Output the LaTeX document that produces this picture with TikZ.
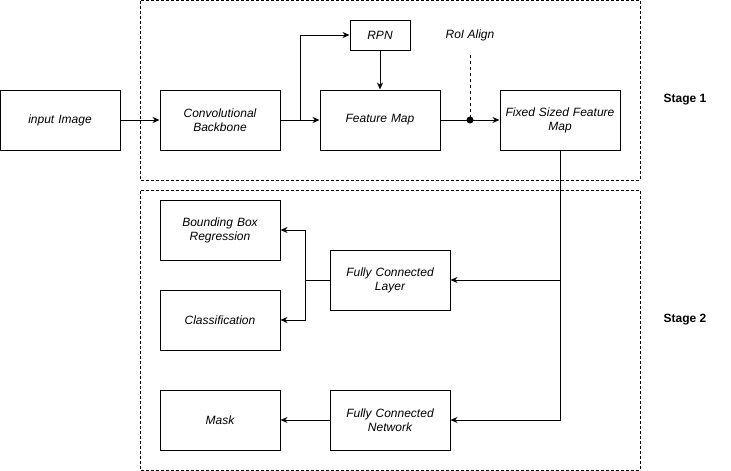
\documentclass[tikz,border=0pt]{standalone}
\usepackage{fontspec}
\setmainfont{Liberation Sans}
\usetikzlibrary{arrows.meta}
\begin{document}
\begin{tikzpicture}[x=1pt,y=-1pt,
  box/.style={draw,line width=1pt,minimum width=120pt,minimum height=60pt,inner sep=0pt,align=center,text width=116pt,font=\fontsize{12}{14}\selectfont\itshape},
  smallbox/.style={draw,line width=1pt,minimum width=60pt,minimum height=30pt,inner sep=0pt,align=center,font=\fontsize{12}{14}\selectfont\itshape},
  stagebox/.style={draw,line width=0.8pt,dash pattern=on 3pt off 2pt},
  conn/.style={line width=1pt,-{Stealth[length=7pt,width=6pt]}},
  line/.style={line width=1pt},
  lbl/.style={font=\fontsize{12}{14}\selectfont\itshape,inner sep=0pt},
  stagelbl/.style={font=\fontsize{12}{14}\selectfont\bfseries,inner sep=0pt}]
\useasboundingbox (0,0) rectangle (731,471);
\draw[stagebox] (140.5,0.5) rectangle (640,180);
\draw[stagebox] (140.5,190.5) rectangle (640,470);
\node[box] (inp) at (60,120) {input Image};
\node[box] (conv) at (220,120) {Convolutional\\Backbone};
\node[smallbox] (rpn) at (380,35) {RPN};
\node[box] (fm) at (380,120) {Feature Map};
\node[box] (fix) at (560,120) {Fixed Sized Feature\\Map};
\node[box] (bbr) at (220,230) {Bounding Box\\Regression};
\node[box] (cls) at (220,320) {Classification};
\node[box] (fcl) at (390,280) {Fully Connected\\Layer};
\node[box] (mask) at (220,420) {Mask};
\node[box] (fcn) at (390,420) {Fully Connected\\Network};
\node[lbl] (roi) at (470,35) {RoI Align};
\node[stagelbl] (s1) at (685,100) {Stage 1};
\node[stagelbl] (s2) at (685,320) {Stage 2};
\coordinate (split) at (300,120);
\coordinate (dot) at (470,120);
\coordinate (roitop) at (470,55);
\coordinate (down) at (560,280);
\coordinate (fork) at (305,280);
\draw[conn] (inp) -- (conv);
\draw[conn] (conv) -- (fm);
\draw[conn] (split) |- (rpn.west);
\draw[conn] (rpn) -- (fm);
\draw[conn] (fm) -- (fix);
\draw[line,dashed,dash pattern=on 3pt off 3pt] (roitop) -- (dot);
\fill (dot) circle (3.5pt);
\draw[conn] (fix.south) |- (fcn.east);
\draw[conn] (down) -- (fcl.east);
\draw[line] (fcl.west) -- (fork);
\draw[conn] (fork) |- (bbr.east);
\draw[conn] (fork) |- (cls.east);
\draw[conn] (fcn) -- (mask);
\end{tikzpicture}
\end{document}
